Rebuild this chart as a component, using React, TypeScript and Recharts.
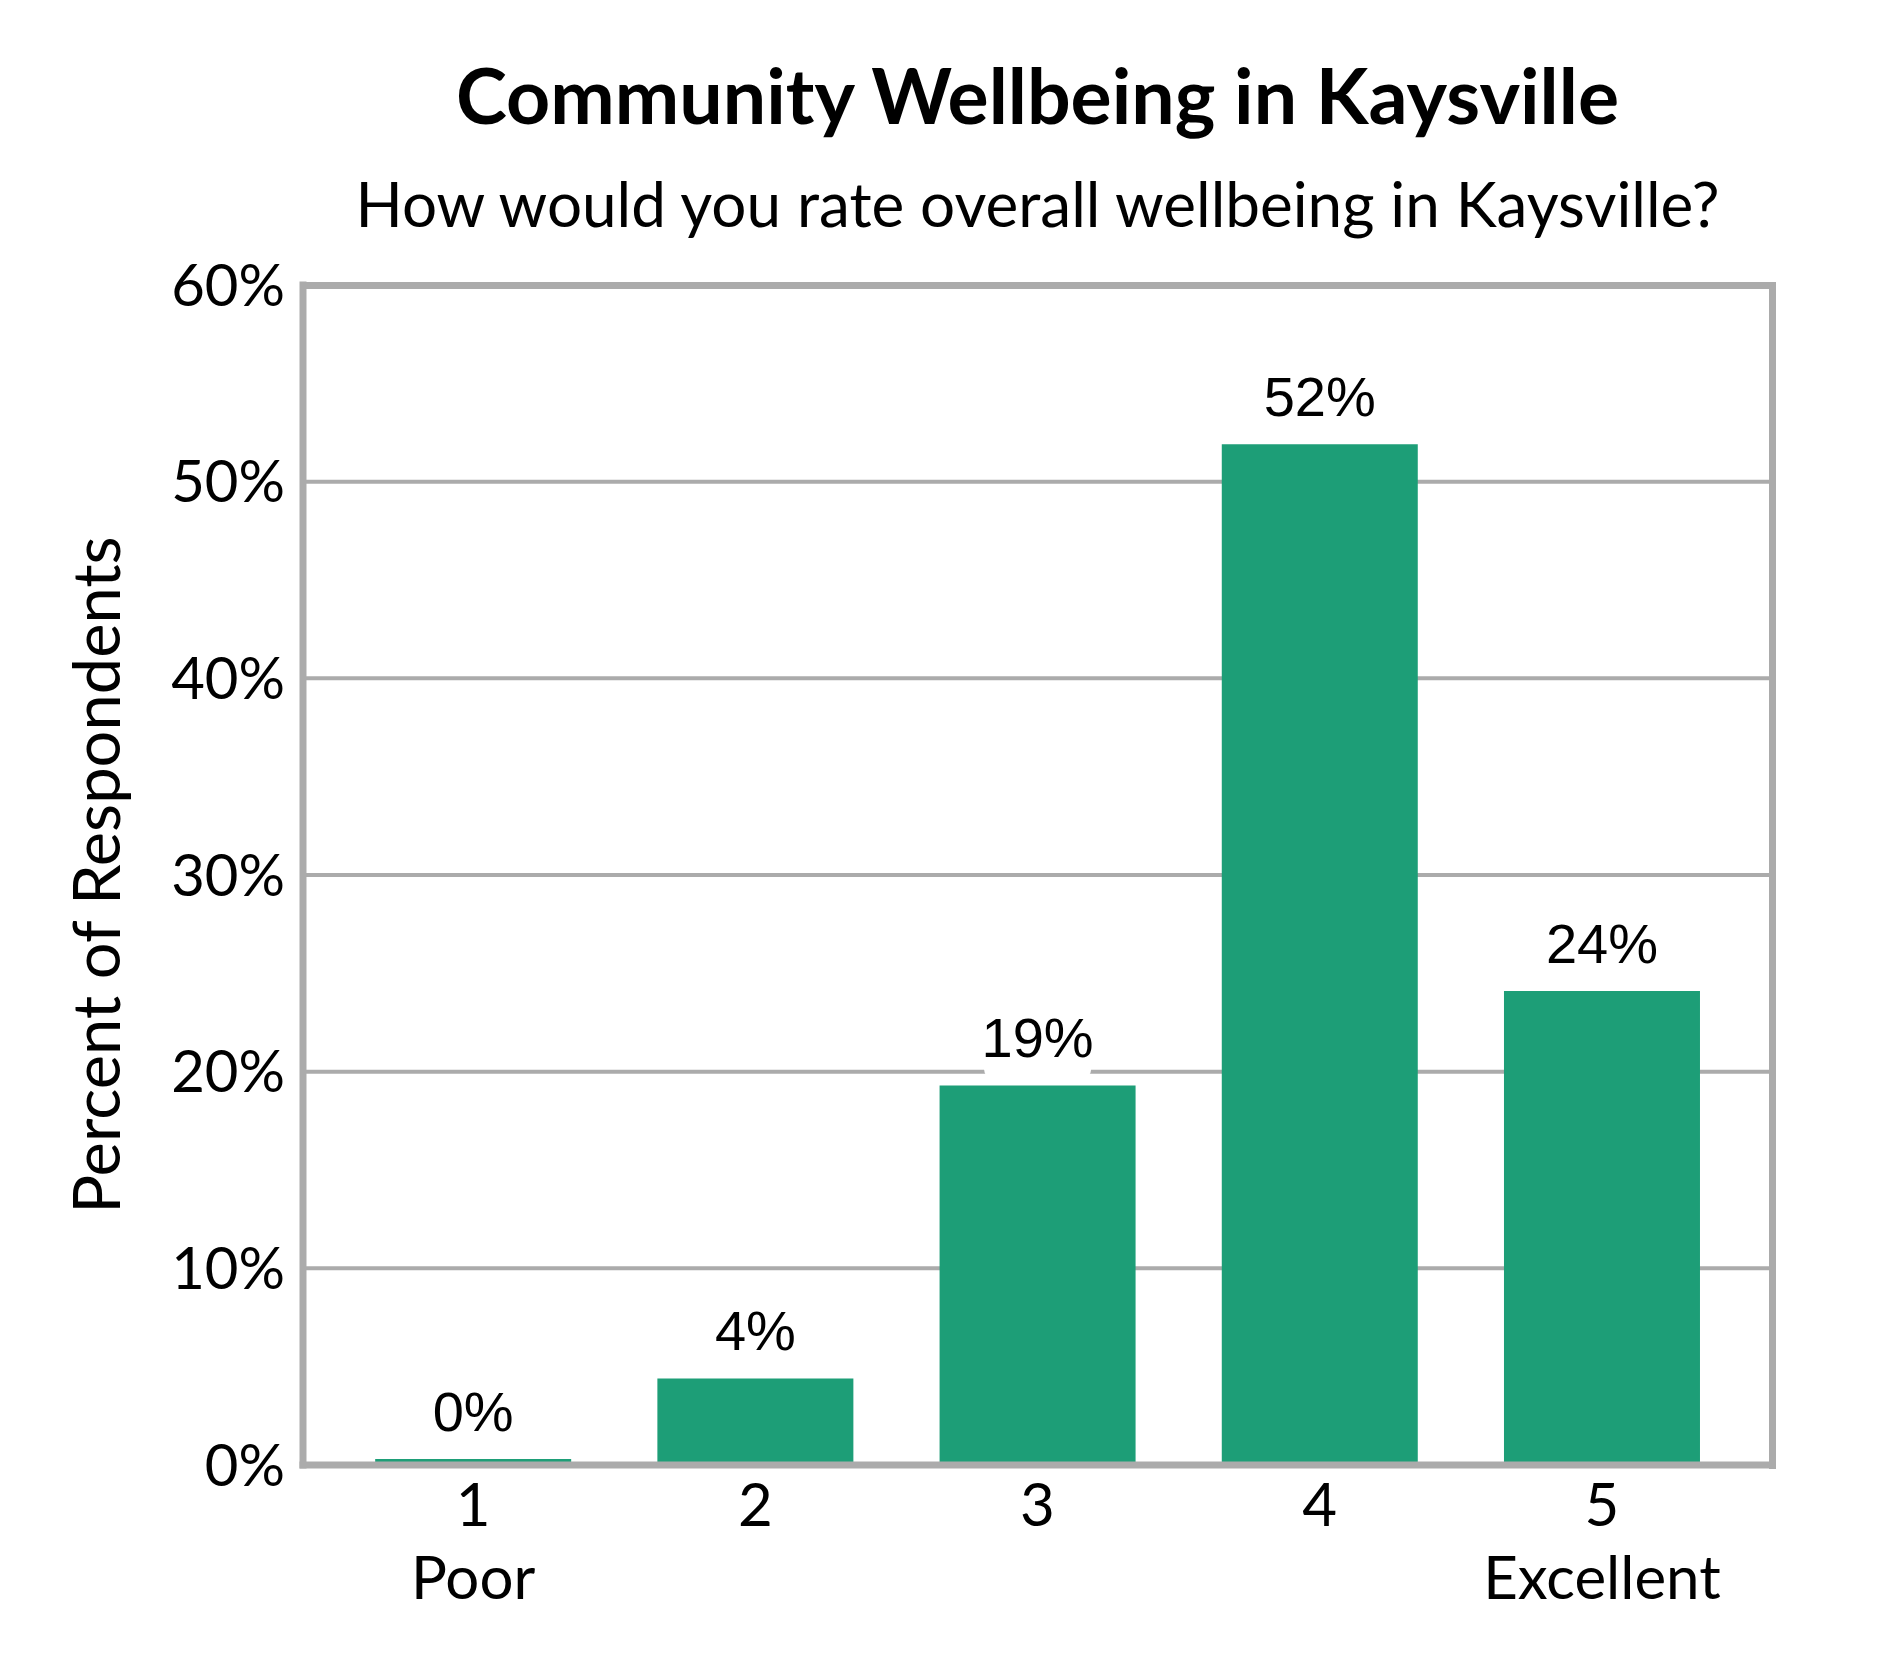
import React from "react";
import { BarChart, Bar, XAxis, YAxis, CartesianGrid, LabelList } from "recharts";

const categories = ["1", "2", "3", "4", "5"];
const subLabels = ["Poor", "", "", "", "Excellent"];
const percents = [0.3, 4.4, 19.3, 51.9, 24.1];
const valueLabels = ["0%", "4%", "19%", "52%", "24%"];
const yTicks = [0, 10, 20, 30, 40, 50, 60];

const data = categories.map((c, i) => ({
  rating: c,
  sub: subLabels[i],
  pct: percents[i],
  label: valueLabels[i],
}));

const W = 1890;
const H = 1680;
const GRID = "#ababab";
const BAR = "#1d9e77";
const FONT = "Lato, 'Open Sans', sans-serif";
const border = { stroke: GRID, strokeWidth: 7, strokeLinecap: "square" as const };

// plot frame
const PL = 303;
const PT = 285;
const PR = 118;
const XH = 215;
const PW = W - PL - PR;
const PH = H - PT - XH;

function XTick(props: any) {
  const { x, y, payload, index } = props;
  const sub = subLabels[index] || "";
  return (
    <text x={x} y={y} textAnchor="middle" fontFamily={FONT} fontSize={60} fill="#000">
      <tspan x={x} dy={61}>{payload.value}</tspan>
      {sub ? <tspan x={x} dy={73}>{sub}</tspan> : null}
    </text>
  );
}

function ValueLabel(props: any) {
  const { x, y, width, value } = props;
  const cx = x + width / 2;
  const cy = y - 48;
  const w = String(value).length * 31 + 14;
  return (
    <g>
      <rect x={cx - w / 2} y={cy - 30} width={w} height={72} rx={10} fill="#fff" />
      <text x={cx} y={cy + 20} textAnchor="middle" fontFamily="'Liberation Sans', Arial, sans-serif" fontSize={56} fill="#000">
        {value}
      </text>
    </g>
  );
}

function YLabel(props: any) {
  const { viewBox } = props;
  const cy = viewBox.y + viewBox.height / 2;
  const cx = 95;
  return (
    <text
      x={cx}
      y={cy}
      transform={`rotate(-90 ${cx} ${cy})`}
      textAnchor="middle"
      dominantBaseline="central"
      fontFamily={FONT}
      fontSize={65}
      fill="#000"
    >
      Percent of Respondents
    </text>
  );
}

export default function App() {
  return (
    <div style={{ position: "absolute", left: 0, top: 0, width: W, height: H, background: "#fff" }}>
      <div
        style={{
          position: "absolute",
          left: PL,
          width: PW,
          top: 52,
          textAlign: "center",
          fontFamily: FONT,
          fontWeight: 700,
          fontSize: 77,
          lineHeight: "84px",
          color: "#000",
        }}
      >
        Community Wellbeing in Kaysville
      </div>
      <div
        style={{
          position: "absolute",
          left: PL,
          width: PW,
          top: 165,
          textAlign: "center",
          fontFamily: FONT,
          fontSize: 62,
          lineHeight: "76px",
          color: "#000",
        }}
      >
        How would you rate overall wellbeing in Kaysville?
      </div>
      <BarChart
        width={W}
        height={H}
        data={data}
        margin={{ top: PT, right: PR, bottom: 0, left: 0 }}
        barCategoryGap="15.3%"
      >
        <CartesianGrid horizontal vertical={false} stroke={GRID} strokeWidth={4} />
        <XAxis
          dataKey="rating"
          height={XH}
          padding={{ left: 29, right: 29 }}
          axisLine={border}
          tickLine={false}
          tickSize={0}
          tickMargin={0}
          tick={<XTick />}
          interval={0}
        />
        <YAxis
          width={PL}
          domain={[0, 60]}
          ticks={yTicks}
          tickFormatter={(v: number) => `${v}%`}
          axisLine={border}
          tickLine={false}
          tickSize={0}
          tickMargin={18}
          tick={{ fontFamily: FONT, fontSize: 58, fill: "#000" }}
          label={<YLabel />}
        />
        <Bar dataKey="pct" fill={BAR} isAnimationActive={false}>
          <LabelList dataKey="label" content={<ValueLabel />} />
        </Bar>
      </BarChart>
      {/* top and right edges of the plot frame */}
      <div
        style={{
          position: "absolute",
          left: PL - 3.5,
          top: PT - 3.5,
          width: PW + 7,
          height: 7,
          background: GRID,
          pointerEvents: "none",
        }}
      />
      <div
        style={{
          position: "absolute",
          left: PL + PW - 3.5,
          top: PT - 3.5,
          width: 7,
          height: PH + 7,
          background: GRID,
          pointerEvents: "none",
        }}
      />
    </div>
  );
}
